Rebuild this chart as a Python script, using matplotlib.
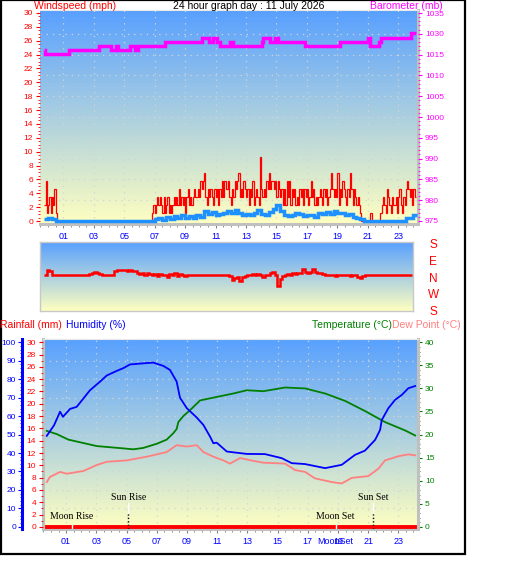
import numpy as np
import matplotlib.pyplot as plt
from matplotlib.patches import Rectangle
from matplotlib.ticker import FixedLocator, MultipleLocator
from matplotlib.transforms import blended_transform_factory as blend

plt.rcParams['font.family'] = ['Liberation Sans', 'DejaVu Sans']

# wind gust in knots, one digit per 5 minutes, one string per hour (first sample 23:45)
gust_kt = [
    "251231324100", "000000000000", "000000000000", "000000000000",
    "000000000000", "000000000000", "000000000000", "012123232131",
    "231212323242", "323134232343", "343545632434", "324342435354",
    "453243545634", "354342435234", "328434354645", "545354342425",
    "352434232434", "243423534232", "343243423464", "343624354324",
    "364243232100", "000001000000", "012321432132", "231342132454",
    "34243",
]
# average wind speed (mph), 15 minute samples
avg_mph = [0.3, 0.5, 0.3, 0.0] + [0.0] * 24 + [
    0.0, 0.3, 0.5, 0.2, 0.6, 0.3, 0.7, 0.4,
    0.8, 0.5, 0.7, 0.4, 0.8, 0.6,
    1.5, 1.0, 1.3, 0.8, 1.0, 1.2, 1.4, 1.1,
    1.6, 1.2, 0.8, 1.0, 0.9, 1.2, 1.6, 1.0,
    0.9, 1.3, 1.7, 2.3, 1.4, 0.8, 0.7, 0.8,
    1.2, 1.0, 0.7, 0.9, 0.8, 0.6, 1.2, 1.0,
    1.3, 1.0, 1.4, 1.2, 1.1, 0.8, 1.0, 0.6,
    0.5, 0.3, 0.0, 0.0] + [0.0] * 8 + [0.0, 0.4, 0.5, 0.9]
start_h = -0.25

# barometer (mb): change times and level between them
baro_edges = [-0.27, -0.2, 1.37, 3.35, 4.13, 4.46, 4.59, 5.38, 5.71, 5.90, 7.67,
              10.1, 10.57, 10.83, 11.1, 11.3, 11.94, 12.14, 14.04, 14.1, 14.58,
              14.9, 15.1, 16.87, 19.17, 21.0, 21.14, 21.73, 21.86, 23.83, 24.16]
baro_mb = [1024.3, 1023.1, 1024.3, 1025.5, 1024.3, 1025.5, 1024.3, 1025.5, 1024.3,
           1025.5, 1026.7, 1027.8, 1026.7, 1027.8, 1026.7, 1025.5, 1026.7, 1025.5,
           1026.7, 1027.8, 1026.7, 1027.8, 1026.7, 1025.5, 1026.7, 1027.8, 1025.5,
           1026.7, 1027.8, 1029.1]
baro_ticks = np.linspace(975, 1035, 11)
baro_labels = ["975", "980", "985", "990", "995", "1000", "1005", "1010", "1015", "1030", "1035"]

# wind direction (degrees, 0 = N, 90 = E), 10 minute samples
dir_deg = [
    18, 44, 40, 18, 18, 18,
    18, 18, 18, 18, 18, 18,
    18, 18, 18, 18, 18, 18,
    25, 31, 37, 31, 24, 18,
    18, 18, 18, 18, 42, 45,
    44, 44, 44, 42, 44, 42,
    40, 31, 24, 30, 22, 28,
    24, 18, 27, 15, 24, 20,
    22, 10, 24, 18, 28, 12,
    26, 20, 12, 22, 18, 18,
    18, 18, 18, 18, 18, 18,
    18, 18, 18, 18, 18, 18,
    18, 18, 12, -10, 4, 10,
    -15, 8, 12, 18, 18, 24,
    18, 25, 20, 10, 18, 22,
    28, 37, 20, -39, 0, 15,
    22, 24, 20, 28, 26, 30,
    30, 50, 35, 30, 38, 50,
    36, 30, 28, 24, 20, 22,
    18, 18, 12, 18, 18, 18,
    18, 18, 12, 18, 18, 7,
    4, 12, 18, 18, 20, 18,
    18, 18, 18, 22, 18, 18,
    18, 18, 18, 18, 18, 18,
    18, 18, 18,
]
dir_names = ["S", "E", "N", "W", "S"]
dir_pos = [180, 90, 0, -90, -180]

hum_h = [-0.28, 0.2, 0.6, 0.79, 1.26, 1.7, 2.58, 3.25, 3.69, 4.35, 4.79, 5.23, 6.11,
         6.77, 7.44, 7.88, 8.32, 8.54, 8.99, 9.65, 10.09, 10.53, 10.75, 10.97, 11.64,
         12.96, 14.17, 15.28, 15.94, 16.82, 18.15, 19.25, 20.13, 20.79, 21.46, 21.79,
         21.9, 22.34, 22.78, 23.23, 23.66, 24.11]
hum = [49.3, 55, 62.4, 59.6, 63.9, 65, 74, 78.7, 82, 84.5, 86, 88, 88.6, 89, 87.2, 85,
       78.7, 70, 64.3, 59.2, 55.2, 48.9, 45.3, 45.6, 40.8, 39.5, 39.4, 37.2, 34.5, 34,
       31.8, 33.6, 39, 41.3, 47.1, 52.5, 57.9, 64.3, 68.8, 71.5, 75.1, 76.3]
temp_h = [-0.28, 0.38, 1.15, 3.03, 4.79, 5.45, 6.11, 7.0, 7.66, 8.1, 8.32, 8.43, 8.76,
          9.21, 9.87, 10.75, 12.07, 12.96, 14.06, 15.5, 16.82, 18.15, 19.47, 20.79,
          22.12, 23.44, 24.11]
temp = [20.8, 20.1, 18.9, 17.5, 17.0, 16.8, 17.1, 18.0, 18.9, 20.3, 21.2, 22.7, 24.0,
        25.3, 27.4, 28.0, 28.9, 29.6, 29.4, 30.2, 30.0, 28.9, 27.3, 25.1, 22.7, 20.9, 19.8]
dew_h = [-0.28, -0.07, 0.6, 1.04, 2.14, 3.03, 3.69, 5.01, 6.34, 7.66, 8.32, 8.99, 9.65,
         10.09, 10.75, 11.41, 11.85, 12.52, 13.4, 14.06, 15.5, 16.16, 16.82, 17.48,
         18.59, 19.25, 19.91, 21.01, 21.68, 22.12, 23.0, 23.66, 24.11]
dew = [9.7, 10.8, 11.9, 11.5, 12.1, 13.4, 14.1, 14.4, 15.2, 16.2, 17.7, 17.4, 17.7,
       16.2, 15.2, 14.4, 13.7, 14.9, 14.3, 13.9, 13.7, 12.3, 11.9, 10.5, 9.7, 9.4,
       10.6, 11.0, 12.6, 14.4, 15.3, 15.7, 15.5]
rain_h = [-0.28, 24.11]
rain_mm = [0, 0]

sun_rise, sun_set = 5.13, 21.34
moon_rise, moon_set = 1.39, 18.85

hour_ticks = list(range(1, 24, 2))
hour_labels = ["%02d" % h for h in hour_ticks]

W, H = 529, 563
XLIM = (-0.53, 24.3)
TOP = np.array([88, 160, 255]) / 255
BOT = np.array([255, 255, 192]) / 255
grad = np.linspace(0, 1, 256)[:, None, None]
grad_img = TOP * (1 - grad) + BOT * grad


def box(l, t, r, b):
    return [l / W, 1 - b / H, (r - l) / W, (b - t) / H]


def paint(ax):
    x0, x1 = ax.get_xlim()
    y0, y1 = ax.get_ylim()
    ax.imshow(grad_img, extent=(x0, x1, y0, y1), aspect='auto', zorder=0)
    ax.set_xlim(x0, x1)
    ax.set_ylim(y0, y1)


def dotted_grid(ax, ys):
    for h in hour_ticks:
        ax.axvline(h, color='#D4D4D4', ls=(0, (1, 4)), lw=0.9, zorder=1)
    for y in ys:
        ax.axhline(y, color='#D4D4D4', ls=(0, (1, 4)), lw=0.9, zorder=1)


def hour_axis(ax):
    ax.set_xticks(hour_ticks)
    ax.set_xticklabels(hour_labels)
    ax.xaxis.set_minor_locator(MultipleLocator(0.5))
    ax.tick_params(axis='x', which='both', colors='#808080', labelcolor='#0000FF',
                   labelsize=6.5, pad=2.5)
    ax.tick_params(axis='x', which='major', length=3)
    ax.tick_params(axis='x', which='minor', length=2)


def y_ticks(ax, major, minor, color, pad=2):
    ax.yaxis.set_major_locator(MultipleLocator(major) if np.isscalar(major) else FixedLocator(major))
    ax.yaxis.set_minor_locator(MultipleLocator(minor) if np.isscalar(minor) else FixedLocator(minor))
    ax.tick_params(axis='y', which='both', colors=color, labelsize=6, pad=pad)
    ax.tick_params(axis='y', which='major', length=3)
    ax.tick_params(axis='y', which='minor', length=1.5)


fig = plt.figure(figsize=(W / 100, H / 100), dpi=100)

# ---------------- wind speed / barometer ----------------
ax1 = fig.add_axes(box(40, 10, 418, 224))
ax1.set_xlim(*XLIM)
ax1.set_ylim(-0.43, 30.43)
paint(ax1)
dotted_grid(ax1, np.arange(3, 30, 3))

gust = np.array([int(c) for s in gust_kt for c in s]) * 1.1508
gust_edges = start_h + np.arange(len(gust) + 1) / 12
ax1.stairs(gust, gust_edges, baseline=None, color='#FF0000', lw=0.9, zorder=3)
avg_edges = start_h + np.arange(len(avg_mph) + 1) / 4
ax1.stairs(avg_mph, avg_edges, baseline=None, color='#1E90FF', lw=2.5, zorder=4)

y_ticks(ax1, 2, 0.5, '#FF0000')
hour_axis(ax1)
for s in ['right', 'bottom']:
    ax1.spines[s].set_color('#C0C0C0')
    ax1.spines[s].set_linewidth(2.2)
ax1.spines['top'].set_color('#E8E8E8')
ax1.spines['left'].set_visible(False)

ax1b = ax1.twinx()
ax1b.set_xlim(*XLIM)
ax1b.set_ylim(974.13, 1035.87)
ax1b.stairs(baro_mb, baro_edges, baseline=None, color='#FF00FF', lw=2.5)
y_ticks(ax1b, baro_ticks, np.linspace(975, 1035, 51), '#FF00FF')
ax1b.set_yticklabels(baro_labels)
for s in ax1b.spines.values():
    s.set_visible(False)

# ---------------- wind direction ----------------
ax2 = fig.add_axes(box(40, 241.7, 413, 310.7))
ax2.set_xlim(*XLIM)
ax2.set_ylim(-172, 198)
paint(ax2)
dir_edges = start_h + np.arange(len(dir_deg) + 1) / 6
ax2.stairs(dir_deg, dir_edges, baseline=None, color='#FF0000', lw=1.8, zorder=3)
ax2.set_xticks([])
ax2.set_yticks([])
for s in ax2.spines.values():
    s.set_color('#C8C8C8')
    s.set_linewidth(1)
tr = blend(ax2.transAxes, ax2.transData)
for name, v in zip(dir_names, dir_pos):
    ax2.text(1.054, v, name, transform=tr, ha='center', va='center', color='#FF0000',
             fontsize=8.5, clip_on=False)


# ---------------- temperature / humidity / rain ----------------
def lims(top):
    return (-top * 2.2 / 184.5, top * (1 + 3 / 184.5))


ax3 = fig.add_axes(box(43, 339.3, 418, 529))
ax3.set_xlim(*XLIM)
ax3.set_ylim(*lims(40))
paint(ax3)
dotted_grid(ax3, [v * 0.4 for v in range(10, 100, 10)])
ax3.plot(temp_h, temp, color='#008000', lw=1.3, zorder=3)
ax3.plot(dew_h, dew, color='#FF8080', lw=1.3, zorder=3)
hour_axis(ax3)

axh = ax3.twinx()
axr = ax3.twinx()

ax3.yaxis.tick_right()
y_ticks(ax3, 5, 1, '#008000')
for s in ['right', 'bottom', 'left']:
    ax3.spines[s].set_color('#C0C0C0')
    ax3.spines[s].set_linewidth(2.2)
ax3.spines['top'].set_color('#E8E8E8')

axh.set_xlim(*XLIM)
axh.set_ylim(*lims(100))
axh.plot(hum_h, hum, color='#0000FF', lw=1.3)
axh.yaxis.tick_left()
axh.spines['left'].set_position(('outward', 15))
axh.spines['left'].set_color('#0000FF')
axh.spines['left'].set_linewidth(2.2)
for s in ['right', 'top', 'bottom']:
    axh.spines[s].set_visible(False)
y_ticks(axh, 10, 2, '#0000FF', pad=1.5)

axr.set_xlim(*XLIM)
axr.set_ylim(*lims(30))
axr.plot(rain_h, rain_mm, color='#FF0000', lw=2.8)
axr.yaxis.tick_left()
for s in axr.spines.values():
    s.set_visible(False)
y_ticks(axr, 2, 1, '#FF0000')

# sun / moon events
for t in (sun_rise, sun_set):
    axr.axvline(t, 0, 0.084, color='black', ls=(0, (1, 1.5)), lw=1)
    axr.axvline(t, 0.084, 0.139, color='white', lw=1)
for t in (moon_rise, moon_set):
    axr.axvline(t, 0, 0.021, color='white', lw=1)
et = blend(axr.transData, axr.transAxes)
for t, lab in [(sun_rise, "Sun Rise"), (sun_set, "Sun Set")]:
    axr.text(t, 0.165, lab, transform=et, ha='center', va='center', fontsize=7,
             family='Liberation Serif', color='black')
for t, lab in [(moon_rise, "Moon Rise"), (moon_set, "Moon Set")]:
    axr.text(t, 0.065, lab, transform=et, ha='center', va='center', fontsize=7,
             family='Liberation Serif', color='black')
axr.text(moon_set, -0.067, "MoonSet", transform=et, ha='center', va='center',
         fontsize=6.5, color='#0000FF', clip_on=False)

# ---------------- headers ----------------
fs = 7.5
fig.text(34 / W, 1 - 9 / H, "Windspeed (mph)", color='#FF0000', fontsize=fs, va='baseline')
fig.text(249 / W, 1 - 9 / H, "24 hour graph day : 11 July 2026", color='black',
         fontsize=fs, va='baseline', ha='center')
fig.text(443 / W, 1 - 9 / H, "Barometer (mb)", color='#FF00FF', fontsize=fs,
         va='baseline', ha='right')
yh = 1 - 325.5 / H
fig.text(0.5 / W, yh, "Rainfall (mm)", color='#FF0000', fontsize=fs, va='center')
fig.text(66 / W, yh, "Humidity (%)", color='#0000FF', fontsize=fs, va='center')
fig.text(392 / W, yh, "Temperature (°C)", color='#008000', fontsize=fs, va='center',
         ha='right')
fig.text(392 / W, yh, "Dew Point (°C)", color='#FF8080', fontsize=fs, va='center')

fig.add_artist(Rectangle((0.8 / W, 1 - 554 / H), 464 / W, 554 / H, fill=False,
                         ec='black', lw=1.6, transform=fig.transFigure))

fig.savefig('out.png', dpi=100)
